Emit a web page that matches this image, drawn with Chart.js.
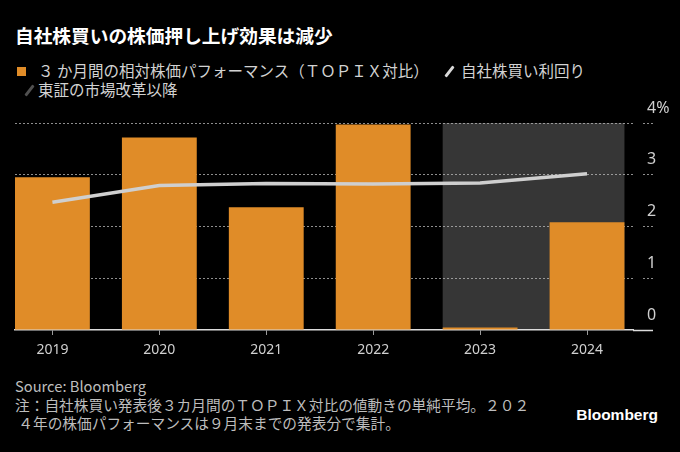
<!DOCTYPE html>
<html>
<head>
<meta charset="utf-8">
<script src="https://cdn.jsdelivr.net/npm/chart.js@4"></script>
<style>
  html, body { margin: 0; padding: 0; background: #000; }
  #wrap { position: relative; width: 680px; height: 452px; background: #000; overflow: hidden;
          font-family: "Noto Sans CJK JP", "Noto Sans", sans-serif; color: #cfcfcf; }
  .abs { position: absolute; white-space: nowrap; }
  #title { left: 15px; top: 24px; font-size: 18.7px; line-height: 22px; font-weight: bold; color: #fff; }
  .leg { font-size: 15.5px; line-height: 18px; color: #d2d2d2; }
  .sq { display: inline-block; width: 9px; height: 9px; background: #e08c28; vertical-align: 1px; }
  .sl { display: inline-block; width: 3px; height: 13px; transform: rotate(38deg); vertical-align: -1px; border-radius: 1px; }
  #foot { left: 15px; top: 377px; font-size: 14.7px; line-height: 18.5px; color: #bdbdbd; }
  #logo { right: 22px; top: 406px; font-family: "Liberation Sans", Arial, sans-serif; font-weight: bold; font-size: 15.5px; line-height: 18px; color: #fff; }
  #cv { position: absolute; left: 0; top: 95px; }
</style>
</head>
<body>
<div id="wrap">
  <div id="title" class="abs">自社株買いの株価押し上げ効果は減少</div>
  <div class="abs leg" style="left:17px; top:61px;"><span class="sq"></span><span style="margin-left:12px;">３ か月間の相対株価パフォーマンス（ＴＯＰＩＸ対比）</span></div>
  <div class="abs leg" style="left:448px; top:61px;"><span class="sl" style="background:#d8d8d8;"></span><span style="margin-left:10px;">自社株買い利回り</span></div>
  <div class="abs leg" style="left:28px; top:80px;"><span class="sl" style="background:#505050;"></span><span style="margin-left:7px;">東証の市場改革以降</span></div>
  <canvas id="cv" width="680" height="275" style="width:680px;height:275px;"></canvas>
  <div id="foot" class="abs">Source: Bloomberg<br>注：自社株買い発表後３カ月間のＴＯＰＩＸ対比の値動きの単純平均。２０２<br>&nbsp;４年の株価パフォーマンスは９月末までの発表分で集計。</div>
  <div id="logo" class="abs">Bloomberg</div>
</div>
<script>
// ---- data ----
const years = ['2019', '2020', '2021', '2022', '2023', '2024'];
const performance = [2.95, 3.72, 2.37, 3.97, 0.05, 2.08];   // 3か月間の相対株価パフォーマンス (%)
const buybackYield = [2.47, 2.79, 2.83, 2.82, 2.84, 3.02];  // 自社株買い利回り (%)
const yTicks = [0, 1, 2, 3, 4];
const reformFrom = '2023';   // 東証の市場改革以降
const reformTo = '2024';

const HALF_BAR = 0.35;
const shadePlugin = {
  id: 'shade',
  beforeDraw(chart) {
    const xs = chart.scales.x, ys = chart.scales.y, ctx = chart.ctx;
    const x0 = xs.getPixelForValue(years.indexOf(reformFrom) - HALF_BAR);
    const x1 = xs.getPixelForValue(years.indexOf(reformTo) + HALF_BAR);
    const y0 = ys.getPixelForValue(yTicks[yTicks.length - 1]);
    const y1 = ys.getPixelForValue(yTicks[0]);
    ctx.save();
    ctx.fillStyle = '#363636';
    ctx.fillRect(x0, y0, x1 - x0, y1 - y0);
    ctx.restore();
  }
};

const tickFont = { family: '"Noto Sans", "Noto Sans CJK JP", sans-serif', size: 14 };

new Chart(document.getElementById('cv'), {
  type: 'bar',
  data: {
    datasets: [
      {
        type: 'line',
        label: '自社株買い利回り',
        data: buybackYield.map((v, i) => ({ x: i, y: v })),
        borderColor: '#cfcfcf',
        borderWidth: 3.5,
        pointRadius: 0,
        tension: 0,
        order: 0
      },
      {
        type: 'bar',
        label: '3か月間の相対株価パフォーマンス',
        data: performance.map((v, i) => ({ x: i, y: v })),
        backgroundColor: '#e08c28',
        borderWidth: 0,
        barPercentage: 0.7,
        categoryPercentage: 1.0,
        order: 1
      }
    ]
  },
  options: {
    responsive: false,
    animation: false,
    devicePixelRatio: 1,
    layout: { padding: { left: 15, right: 0, top: 28, bottom: 0 } },
    plugins: { legend: { display: false }, tooltip: { enabled: false } },
    scales: {
      x: {
        type: 'linear',
        position: 'bottom',
        offset: false,
        min: -HALF_BAR,
        max: 5.43,
        afterBuildTicks: (scale) => { scale.ticks = years.map((_, i) => ({ value: i })); },
        afterFit: (scale) => { scale.height = 40; },
        grid: { offset: false, drawOnChartArea: false, drawTicks: true, tickLength: 5, tickColor: '#9a9a9a', tickWidth: 1 },
        border: { display: true, color: '#dcdcdc', width: 1.5 },
        ticks: {
          padding: 7,
          color: '#d0d0d0',
          font: tickFont,
          maxRotation: 0,
          autoSkip: false,
          callback: (v) => years[v] !== undefined ? years[v] : ''
        }
      },
      y: {
        position: 'right',
        min: yTicks[0],
        max: yTicks[yTicks.length - 1],
        afterBuildTicks: (scale) => { scale.ticks = yTicks.map(v => ({ value: v })); },
        afterFit: (scale) => { scale.width = 47; },
        grid: {
          color: (c) => c.index === 0 ? 'rgba(0,0,0,0)' : 'rgba(190,190,190,0.75)',
          lineWidth: 1,
          drawTicks: true,
          tickLength: 20,
          tickColor: (c) => c.index === 0 ? '#dcdcdc' : 'rgba(190,190,190,0.75)',
          tickWidth: (c) => c.index === 0 ? 1.5 : 1,
          tickBorderDash: (c) => c.index === 0 ? [] : [0, 10, 2, 2, 2, 2, 2, 0]
        },
        border: { display: false, dash: [2, 2] },
        ticks: {
          padding: -6,
          labelOffset: -15,
          color: '#d0d0d0',
          font: { family: '"Noto Sans", sans-serif', size: 16 },
          callback: (v) => v === yTicks[yTicks.length - 1] ? v + '%' : String(v)
        }
      }
    }
  },
  plugins: [shadePlugin]
});
</script>
</body>
</html>
